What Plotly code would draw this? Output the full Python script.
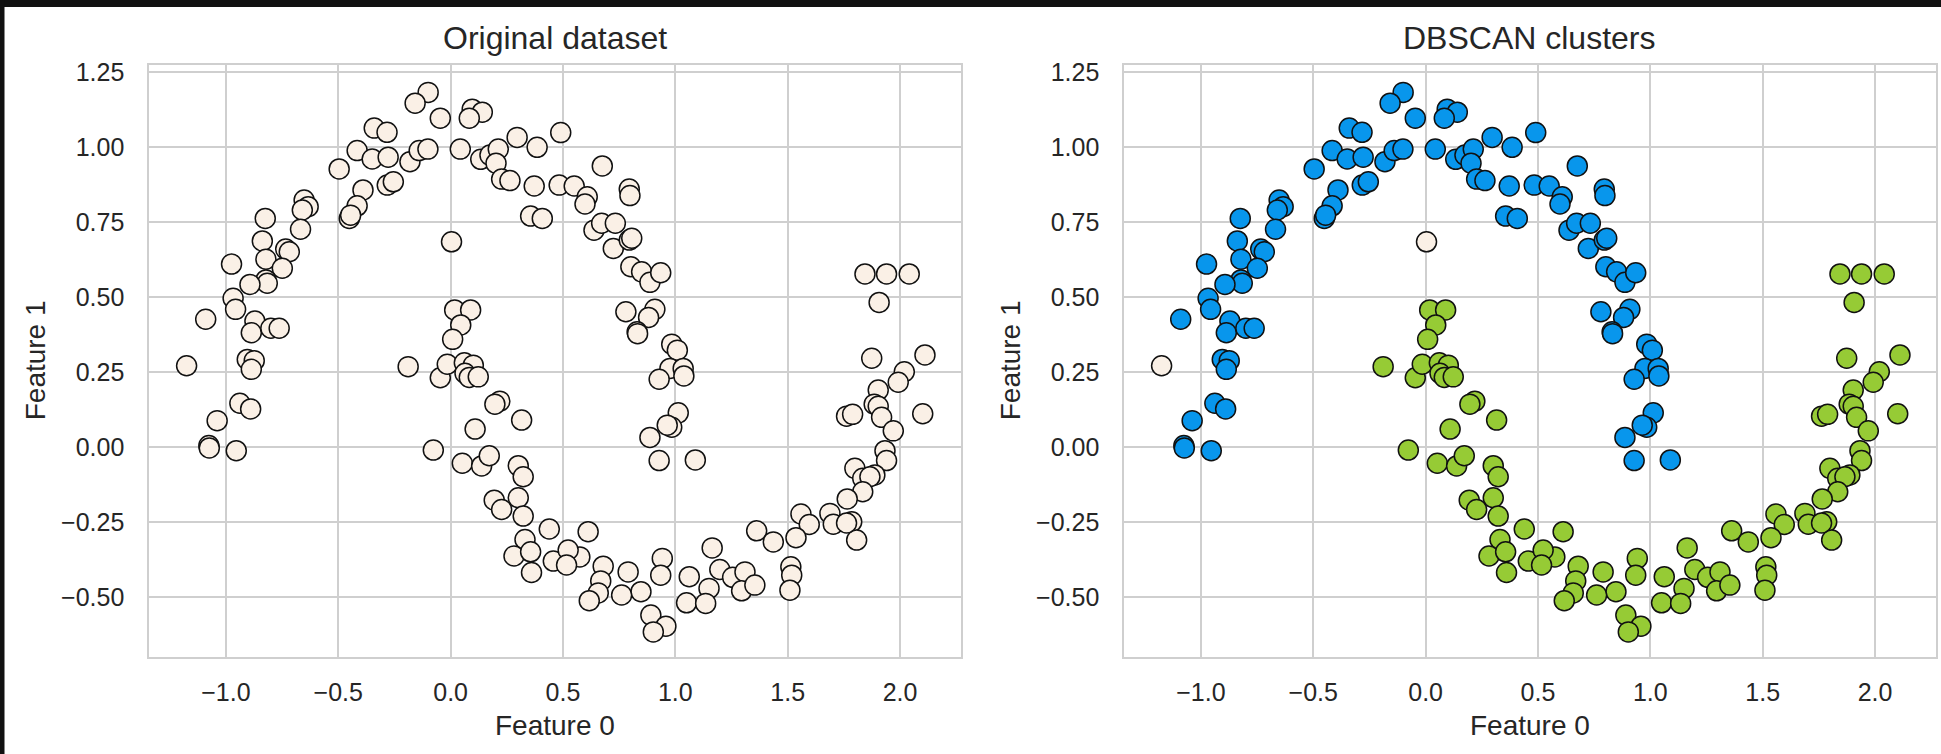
import plotly.graph_objects as go

# ---- data: two interleaving half-moons, clustered with DBSCAN ----
# cluster 0 (upper moon)
upper_x = [-0.100, -0.158, -0.046, 0.096, 0.141, 0.083, -0.340, -0.283, -0.416, -0.349,
           -0.278, -0.181, -0.140, -0.101, 0.043, 0.134, 0.175, 0.212, 0.202, 0.227,
           0.264, 0.296, 0.385, 0.372, 0.356, 0.408, 0.483, -0.496, -0.390, -0.282,
           -0.255, -0.416, -0.451, -0.445, -0.652, -0.634, -0.660, -0.668, -0.825, -0.838,
           -0.734, -0.718, -0.822, -0.749, -0.822, -0.816, -0.893, -0.975, -0.968, -0.957,
           -1.090, -0.871, -0.887, -0.800, -0.763, -0.905, -0.874, -0.887, -0.938, -0.890,
           -1.039, -1.076, -1.074, -0.954, 0.490, 0.550, 0.608, 0.598, 0.675, 0.795,
           0.798, 0.638, 0.672, 0.733, 0.724, 0.795, 0.806, 0.802, 0.850, 0.887,
           0.935, 0.780, 0.909, 0.881, 0.830, 0.832, 0.984, 1.009, 0.976, 1.035,
           0.928, 1.038, 1.013, 0.984, 0.964, 0.887, 0.928, 1.089]
upper_y = [1.183, 1.147, 1.097, 1.127, 1.117, 1.097, 1.064, 1.050, 0.989, 0.961,
           0.967, 0.952, 0.989, 0.994, 0.994, 0.960, 0.974, 0.994, 0.947, 0.894,
           0.889, 1.033, 1.000, 0.871, 0.771, 0.763, 0.874, 0.928, 0.858, 0.874,
           0.885, 0.805, 0.763, 0.774, 0.824, 0.802, 0.791, 0.727, 0.763, 0.688,
           0.661, 0.652, 0.627, 0.597, 0.558, 0.547, 0.543, 0.611, 0.497, 0.460,
           0.427, 0.421, 0.382, 0.397, 0.397, 0.293, 0.289, 0.260, 0.147, 0.128,
           0.089, 0.006, -0.002, -0.011, 1.049, 0.871, 0.835, 0.811, 0.938, 0.861,
           0.839, 0.724, 0.747, 0.747, 0.663, 0.691, 0.697, 0.602, 0.585, 0.550,
           0.582, 0.452, 0.460, 0.433, 0.385, 0.379, 0.344, 0.324, 0.263, 0.263,
           0.227, 0.238, 0.115, 0.067, 0.074, 0.033, -0.044, -0.042]

# cluster 1 (lower moon)
lower_x = [0.018, 0.089, 0.045, 0.009, -0.189, -0.046, -0.015, 0.061, 0.101, 0.064,
           0.083, 0.123, 0.219, 0.197, 0.316, 0.109, -0.077, 0.052, 0.138, 0.172,
           0.301, 0.323, 0.194, 0.227, 0.301, 0.323, 0.439, 0.331, 0.282, 0.356,
           0.360, 0.457, 1.844, 1.940, 2.041, 1.907, 1.874, 2.111, 2.019, 1.992,
           1.903, 1.885, 1.903, 1.918, 1.762, 1.789, 2.101, 1.970, 1.933, 1.940,
           1.799, 1.888, 1.834, 1.866, 1.834, 1.765, 1.785, 1.807, 1.688, 1.703,
           1.762, 1.559, 1.596, 1.537, 1.362, 1.436, 1.514, 1.518, 1.510, 1.164,
           1.198, 1.255, 1.310, 1.295, 1.354, 1.150, 1.062, 1.050, 1.135, 0.942,
           0.935, 0.891, 0.958, 0.902, 0.790, 0.847, 0.761, 0.679, 0.668, 0.657,
           0.617, 0.612, 0.575, 0.523, 0.516]
lower_y = [0.458, 0.458, 0.408, 0.360, 0.269, 0.232, 0.277, 0.282, 0.274, 0.247,
           0.233, 0.235, 0.154, 0.144, 0.091, 0.061, -0.009, -0.053, -0.062, -0.028,
           -0.061, -0.098, -0.176, -0.207, -0.168, -0.229, -0.272, -0.307, -0.362, -0.348,
           -0.417, -0.379, 0.578, 0.578, 0.578, 0.483, 0.297, 0.308, 0.252, 0.217,
           0.191, 0.144, 0.137, 0.100, 0.104, 0.110, 0.112, 0.055, -0.011, -0.044,
           -0.070, -0.092, -0.103, -0.098, -0.148, -0.172, -0.248, -0.309, -0.220, -0.256,
           -0.252, -0.222, -0.257, -0.301, -0.278, -0.315, -0.398, -0.426, -0.476, -0.335,
           -0.407, -0.433, -0.415, -0.478, -0.459, -0.470, -0.431, -0.518, -0.520, -0.370,
           -0.426, -0.559, -0.596, -0.615, -0.415, -0.481, -0.492, -0.396, -0.445, -0.485,
           -0.511, -0.281, -0.365, -0.342, -0.392]

# noise points (label -1)
noise_x = [-1.175, 0.004]
noise_y = [0.272, 0.685]

x_tick_vals = [-1.0, -0.5, 0.0, 0.5, 1.0, 1.5, 2.0]
x_tick_text = ["\u22121.0", "\u22120.5", "0.0", "0.5", "1.0", "1.5", "2.0"]
y_tick_vals = [-0.50, -0.25, 0.00, 0.25, 0.50, 0.75, 1.00, 1.25]
y_tick_text = ["\u22120.50", "\u22120.25", "0.00", "0.25", "0.50", "0.75", "1.00", "1.25"]

panel_titles = ["Original dataset", "DBSCAN clusters"]
x_label = "Feature 0"
y_label = "Feature 1"

# ---- styling ----
W, H = 1941, 754
FONT = "Liberation Sans, Arial, sans-serif"
TEXT = "#262626"
GRID = "#cfcfcf"
NOISE_C = "#faf0e6"
BLUE_C = "#0896ec"
GREEN_C = "#96cb35"
EDGE = "#111111"
MSIZE = 20


def px(x):
    return x / W


def py(y):
    return 1 - y / H


left_dom = [px(149.3), px(960.7)]
right_dom = [px(1124.3), px(1935.7)]
y_dom = [py(656.5), py(64.5)]
x_range = [-1.341, 2.270]
y_range = [-0.697, 1.276]


def marker(color):
    return dict(size=MSIZE, color=color, line=dict(color=EDGE, width=1.5))


fig = go.Figure()

# left panel: every point in the same colour
all_x = upper_x + lower_x + noise_x
all_y = upper_y + lower_y + noise_y
fig.add_trace(go.Scatter(x=all_x, y=all_y, mode="markers", marker=marker(NOISE_C),
                         xaxis="x", yaxis="y", showlegend=False))

# right panel: coloured by DBSCAN label
fig.add_trace(go.Scatter(x=upper_x, y=upper_y, mode="markers", marker=marker(BLUE_C),
                         xaxis="x2", yaxis="y2", showlegend=False))
fig.add_trace(go.Scatter(x=lower_x, y=lower_y, mode="markers", marker=marker(GREEN_C),
                         xaxis="x2", yaxis="y2", showlegend=False))
fig.add_trace(go.Scatter(x=noise_x, y=noise_y, mode="markers", marker=marker(NOISE_C),
                         xaxis="x2", yaxis="y2", showlegend=False))

axis_common = dict(showline=True, mirror=True, linecolor=GRID, linewidth=2,
                   showgrid=True, gridcolor=GRID, gridwidth=2, zeroline=False,
                   automargin=False, ticks="",
                   tickfont=dict(family=FONT, size=25, color=TEXT))

xa = dict(axis_common, range=x_range, tickmode="array", tickvals=x_tick_vals,
          ticktext=x_tick_text, ticklabelstandoff=12)
ya = dict(axis_common, range=y_range, tickmode="array", tickvals=y_tick_vals,
          ticktext=y_tick_text, ticklabelstandoff=18)

fig.update_layout(
    template="none",
    width=W, height=H, autosize=False,
    margin=dict(l=0, r=0, t=0, b=0, pad=0, autoexpand=False),
    paper_bgcolor="white", plot_bgcolor="white",
    xaxis=dict(xa, domain=left_dom, anchor="y"),
    yaxis=dict(ya, domain=y_dom, anchor="x"),
    xaxis2=dict(xa, domain=right_dom, anchor="y2"),
    yaxis2=dict(ya, domain=y_dom, anchor="x2"),
)

annotations = []
for i, dom in enumerate([left_dom, right_dom]):
    cx = (dom[0] + dom[1]) / 2
    annotations.append(dict(text=panel_titles[i], x=cx, y=py(38.5), xref="paper", yref="paper",
                            xanchor="center", yanchor="middle", showarrow=False,
                            font=dict(family=FONT, size=32, color=TEXT)))
    annotations.append(dict(text=x_label, x=cx, y=py(725), xref="paper", yref="paper",
                            xanchor="center", yanchor="middle", showarrow=False,
                            font=dict(family=FONT, size=28, color=TEXT)))
    annotations.append(dict(text=y_label, x=px(35.8 + 975 * i), y=py(360.5), xref="paper",
                            yref="paper", xanchor="center", yanchor="middle", textangle=-90,
                            showarrow=False, font=dict(family=FONT, size=28, color=TEXT)))
fig.update_layout(annotations=annotations)

# dark frame strips along the top and left edges of the canvas
fig.update_layout(shapes=[
    dict(type="rect", xref="paper", yref="paper", x0=0, x1=1, y0=py(7), y1=1.01,
         fillcolor="#111111", line=dict(width=0), layer="above"),
    dict(type="rect", xref="paper", yref="paper", x0=-0.01, x1=px(4.5), y0=-0.01, y1=1.01,
         fillcolor="#111111", line=dict(width=0), layer="above"),
])

fig.write_html("out.html")
